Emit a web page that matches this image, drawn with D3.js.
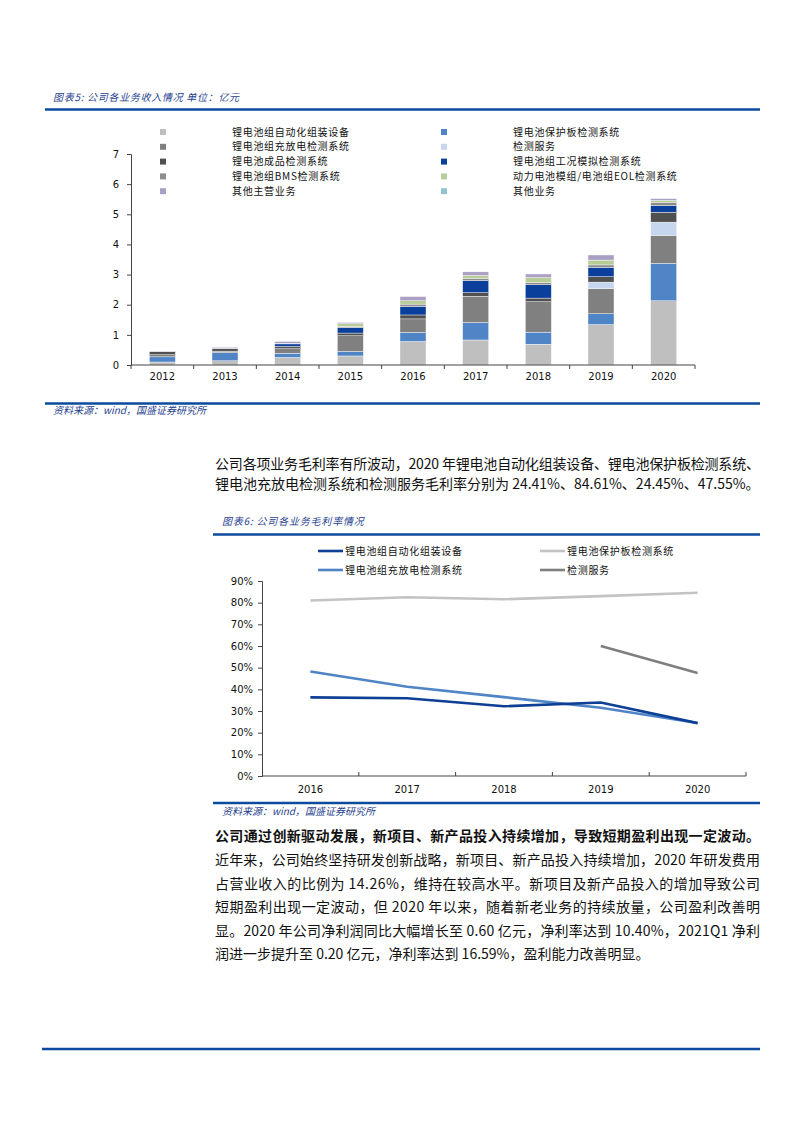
<!DOCTYPE html>
<html>
<head>
<meta charset="utf-8">
<script src="https://cdn.jsdelivr.net/npm/d3@7"></script>
<style>
  html, body { margin: 0; padding: 0; background: #fff; }
  svg { display: block; }
</style>
</head>
<body>
<div id="page"></div>
<script>
/* Chart 5: revenue by business (亿元) */
const years1 = ["2012", "2013", "2014", "2015", "2016", "2017", "2018", "2019", "2020"];
const seriesNames1 = [
  "锂电池组自动化组装设备", "锂电池保护板检测系统",
  "锂电池组充放电检测系统", "检测服务",
  "锂电池成品检测系统", "锂电池组工况模拟检测系统",
  "锂电池组BMS检测系统", "动力电池模组/电池组EOL检测系统",
  "其他主营业务", "其他业务"
];
const seriesColors1 = ["#bfbfbf", "#4f84c6", "#808080", "#c6d6ee", "#505050",
                       "#0a3f9c", "#8c8c8c", "#b8cc98", "#a9a0c4", "#93c2d4"];
const automation      = [0.10, 0.14, 0.25, 0.30, 0.78, 0.83, 0.69, 1.34, 2.13];
const protectBoard    = [0.17, 0.27, 0.14, 0.15, 0.30, 0.58, 0.40, 0.36, 1.24];
const chargeDischarge = [0.07, 0.05, 0.15, 0.52, 0.45, 0.87, 1.01, 0.83, 0.93];
const testService     = [0.00, 0.00, 0.00, 0.00, 0.00, 0.00, 0.00, 0.22, 0.44];
const finishedProduct = [0.10, 0.08, 0.08, 0.09, 0.13, 0.12, 0.12, 0.18, 0.33];
const conditionSim    = [0.00, 0.01, 0.08, 0.18, 0.28, 0.40, 0.44, 0.31, 0.22];
const bmsTest         = [0.01, 0.01, 0.02, 0.04, 0.08, 0.07, 0.07, 0.08, 0.11];
const eolTest         = [0.00, 0.00, 0.00, 0.09, 0.11, 0.10, 0.17, 0.16, 0.06];
const otherMain       = [0.01, 0.03, 0.06, 0.04, 0.14, 0.12, 0.12, 0.17, 0.06];
const otherBiz        = [0.00, 0.00, 0.00, 0.00, 0.00, 0.00, 0.00, 0.00, 0.00];
const yTicks1 = [0, 1, 2, 3, 4, 5, 6, 7];

/* Chart 6: gross margin by business (%) */
const years2 = ["2016", "2017", "2018", "2019", "2020"];
const seriesNames2 = ["锂电池组自动化组装设备", "锂电池保护板检测系统", "锂电池组充放电检测系统", "检测服务"];
const seriesColors2 = ["#0d3f94", "#c3c3c3", "#4f84c6", "#7f7f7f"];
const automationMargin = [36.3, 35.9, 32.2, 33.9, 24.41];
const protectMargin    = [81.0, 82.5, 81.6, 83.0, 84.61];
const chargeMargin     = [48.2, 41.2, 36.4, 31.5, 24.45];
const serviceMargin    = [null, null, null, 60.0, 47.55];
const yTicks2 = [0, 10, 20, 30, 40, 50, 60, 70, 80, 90];

/* Text of the page */
const title1 = "图表5:  公司各业务收入情况  单位：亿元";
const title2 = "图表6:  公司各业务毛利率情况";
const sourceText = "资料来源：wind，国盛证券研究所";
const para1 = [
  "公司各项业务毛利率有所波动，2020 年锂电池自动化组装设备、锂电池保护板检测系统、",
  "锂电池充放电检测系统和检测服务毛利率分别为 24.41%、84.61%、24.45%、47.55%。"
];
const para2Head = "公司通过创新驱动发展，新项目、新产品投入持续增加，导致短期盈利出现一定波动。";
const para2 = [
  "近年来，公司始终坚持研发创新战略，新项目、新产品投入持续增加，2020 年研发费用",
  "占营业收入的比例为 14.26%，维持在较高水平。新项目及新产品投入的增加导致公司",
  "短期盈利出现一定波动，但 2020 年以来，随着新老业务的持续放量，公司盈利改善明",
  "显。2020 年公司净利润同比大幅增长至 0.60 亿元，净利率达到 10.40%，2021Q1 净利",
  "润进一步提升至 0.20 亿元，净利率达到 16.59%，盈利能力改善明显。"
];

const width = 793, height = 1122;
const blue = "#0b4a9c", titleBlue = "#1f3f8f";
const cjk = "'Noto Sans CJK SC', 'Noto Sans', sans-serif";
const latin = "'DejaVu Sans', Verdana, sans-serif";

const svg = d3.select("#page").append("svg")
  .attr("width", width).attr("height", height)
  .attr("viewBox", [0, 0, width, height]);
svg.append("rect").attr("width", width).attr("height", height).attr("fill", "#fff");

/* helper: blue rule */
const rule = (x1, x2, y, w) => svg.append("line")
  .attr("x1", x1).attr("x2", x2).attr("y1", y).attr("y2", y)
  .attr("stroke", blue).attr("stroke-width", w);

const caption = (x, y, t, sp) => svg.append("text")
  .attr("x", x).attr("y", y)
  .attr("font-family", cjk).attr("font-size", "10px").attr("font-style", "italic")
  .attr("letter-spacing", sp + "px")
  .attr("fill", titleBlue).text(t);

/* ---------- Chart 5 ---------- */
caption(53, 101, title1, 0.7);
rule(45, 760, 109.5, 2.5);

const m1 = { left: 131, right: 695, top: 154, bottom: 365 };
const x1 = d3.scaleBand().domain(years1).range([m1.left, m1.right]).padding(0);
const y1 = d3.scaleLinear().domain([0, 7]).range([m1.bottom, m1.top]);
const barW = 26;

const values1 = [automation, protectBoard, chargeDischarge, testService, finishedProduct,
                 conditionSim, bmsTest, eolTest, otherMain, otherBiz];
const table1 = years1.map((yr, i) => {
  const row = { year: yr };
  seriesNames1.forEach((s, k) => row[s] = values1[k][i]);
  return row;
});
const stacked = d3.stack().keys(seriesNames1)(table1);

svg.append("g")
  .selectAll("g")
  .data(stacked)
  .join("g")
    .attr("fill", (d, i) => seriesColors1[i])
  .selectAll("rect")
  .data(d => d.filter(p => p[1] - p[0] > 0))
  .join("rect")
    .attr("x", d => x1(d.data.year) + (x1.bandwidth() - barW) / 2)
    .attr("y", d => y1(d[1]))
    .attr("width", barW)
    .attr("height", d => y1(d[0]) - y1(d[1]))
    .attr("stroke", "#fff")
    .attr("stroke-width", 0.4);

/* y axis */
const yAxis1 = svg.append("g")
  .attr("transform", `translate(${m1.left},0)`)
  .call(d3.axisLeft(y1).tickValues(yTicks1).tickSize(4).tickPadding(8).tickFormat(d3.format("d")));
yAxis1.select(".domain").attr("stroke", "#444");
yAxis1.selectAll(".tick line").attr("stroke", "#444");
yAxis1.selectAll("text").attr("font-family", latin).attr("font-size", "10px").attr("fill", "#111");

/* x axis: labels at centres, ticks at band edges */
const xAxis1 = svg.append("g")
  .attr("transform", `translate(0,${m1.bottom})`)
  .call(d3.axisBottom(x1).tickSize(0).tickPadding(8));
xAxis1.select(".domain").remove();
xAxis1.selectAll("text").attr("font-family", latin).attr("font-size", "10px").attr("fill", "#111");
svg.append("line")
  .attr("x1", m1.left).attr("x2", m1.right).attr("y1", m1.bottom).attr("y2", m1.bottom)
  .attr("stroke", "#444");
svg.append("g")
  .selectAll("line")
  .data(years1.map(d => x1(d)).concat([m1.right]))
  .join("line")
    .attr("x1", d => d).attr("x2", d => d)
    .attr("y1", m1.bottom).attr("y2", m1.bottom + 4)
    .attr("stroke", "#444");

/* legend: two columns, in stack order */
const legend1 = svg.append("g")
  .selectAll("g")
  .data(seriesNames1)
  .join("g")
    .attr("transform", (d, i) => `translate(${i % 2 === 0 ? 160 : 441},${132 + Math.floor(i / 2) * 14.8})`);
legend1.append("rect")
  .attr("x", 0).attr("y", -3).attr("width", 6).attr("height", 6)
  .attr("fill", (d, i) => seriesColors1[i]);
legend1.append("text")
  .attr("x", 72).attr("y", 0).attr("dy", "0.35em")
  .attr("font-family", cjk).attr("font-size", "10px").attr("fill", "#111")
  .attr("letter-spacing", "0.7px")
  .text(d => d);

rule(45, 760, 403.5, 2.5);
caption(53, 414, sourceText, 0);

/* ---------- paragraph 1 ---------- */
const bodyLine = (t, x, y, justify, bold) => {
  const el = svg.append("text")
    .attr("x", x).attr("y", y)
    .attr("font-family", cjk).attr("font-size", "14px").attr("fill", "#111")
    .attr("font-weight", bold ? "bold" : "normal")
    .text(t);
  if (justify) el.attr("textLength", 760 - x).attr("lengthAdjust", "spacing");
  return el;
};
bodyLine(para1[0], 215, 469, true, false);
bodyLine(para1[1], 215, 489, false, false);

/* ---------- Chart 6 ---------- */
caption(222, 525, title2, 0.8);
rule(213, 760, 534.5, 2.5);

const m2 = { left: 262, right: 746, top: 581, bottom: 776 };
const x2 = d3.scaleBand().domain(years2).range([m2.left, m2.right]).padding(0);
const y2 = d3.scaleLinear().domain([0, 90]).range([m2.bottom, m2.top]);

const values2 = [automationMargin, protectMargin, chargeMargin, serviceMargin];
const drawOrder = [1, 2, 0, 3];
const line2 = d3.line()
  .defined(d => d.v !== null)
  .x(d => x2(d.year) + x2.bandwidth() / 2)
  .y(d => y2(d.v));

svg.append("g")
  .selectAll("path")
  .data(drawOrder.map(k => ({ k, pts: years2.map((yr, i) => ({ year: yr, v: values2[k][i] })) })))
  .join("path")
    .attr("d", d => line2(d.pts))
    .attr("fill", "none")
    .attr("stroke", d => seriesColors2[d.k])
    .attr("stroke-width", 2.6);

const yAxis2 = svg.append("g")
  .attr("transform", `translate(${m2.left},0)`)
  .call(d3.axisLeft(y2).tickValues(yTicks2).tickSize(4).tickPadding(5).tickFormat(d => d + "%"));
yAxis2.select(".domain").attr("stroke", "#444");
yAxis2.selectAll(".tick line").attr("stroke", "#444");
yAxis2.selectAll("text").attr("font-family", latin).attr("font-size", "10px").attr("fill", "#111");

const xAxis2 = svg.append("g")
  .attr("transform", `translate(0,${m2.bottom})`)
  .call(d3.axisBottom(x2).tickSize(0).tickPadding(10));
xAxis2.select(".domain").remove();
xAxis2.selectAll("text").attr("font-family", latin).attr("font-size", "10px").attr("fill", "#111");
svg.append("line")
  .attr("x1", m2.left).attr("x2", m2.right).attr("y1", m2.bottom).attr("y2", m2.bottom)
  .attr("stroke", "#444");
svg.append("g")
  .selectAll("line")
  .data(years2.map(d => x2(d)).slice(1).concat([m2.right]))
  .join("line")
    .attr("x1", d => d).attr("x2", d => d)
    .attr("y1", m2.bottom).attr("y2", m2.bottom - 4)
    .attr("stroke", "#444");

const legend2 = svg.append("g")
  .selectAll("g")
  .data(seriesNames2)
  .join("g")
    .attr("transform", (d, i) => `translate(${i % 2 === 0 ? 318 : 540},${551 + Math.floor(i / 2) * 19})`);
legend2.append("line")
  .attr("x1", 0).attr("x2", 25).attr("y1", 0).attr("y2", 0)
  .attr("stroke", (d, i) => seriesColors2[i]).attr("stroke-width", 2.6);
legend2.append("text")
  .attr("x", 27).attr("y", 0).attr("dy", "0.35em")
  .attr("font-family", cjk).attr("font-size", "10px").attr("fill", "#111")
  .attr("letter-spacing", "0.7px")
  .text(d => d);

rule(213, 760, 803, 2.5);
caption(222, 815, sourceText, 0);

/* ---------- paragraph 2 ---------- */
bodyLine(para2Head, 215, 841, true, true);
para2.forEach((t, i) => bodyLine(t, 215, 865 + i * 23.6, i < para2.length - 1, false));

/* footer rule */
rule(42, 760, 1049, 2.5);
</script>
</body>
</html>
